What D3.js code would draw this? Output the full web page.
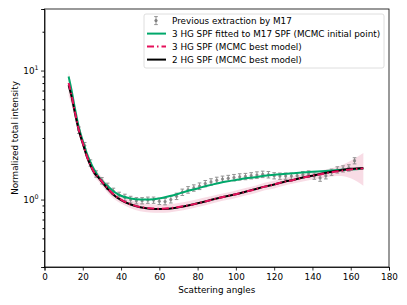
<!DOCTYPE html>
<html>
<head>
<meta charset="utf-8">
<script src="https://cdn.jsdelivr.net/npm/d3@7"></script>
<style>
  body { margin: 0; background: #fff; }
  text { font-family: "DejaVu Sans", sans-serif; }
</style>
</head>
<body>
<div class="canvas"></div>
<script>
// M17 extraction (points + error bars)
const m17Angle = [18, 21, 24, 27, 30, 33, 36, 39, 42, 45, 48, 51, 54, 57, 60, 63, 66, 69, 72, 75,
  78, 81, 84, 87, 90, 93, 96, 99, 102, 105, 108, 111, 114, 117, 120, 123, 126, 129, 132, 135,
  138, 141, 144, 147, 150, 153, 156, 159, 162];
const m17Value = [3.45, 2.62, 1.92, 1.58, 1.40, 1.27, 1.16, 1.08, 1.04, 1.00, 0.98, 0.98, 0.99, 0.99, 0.97, 0.965, 1.0, 1.06, 1.14, 1.19,
  1.23, 1.27, 1.33, 1.37, 1.41, 1.44, 1.46, 1.48, 1.50, 1.51, 1.53, 1.55, 1.57, 1.56, 1.53, 1.52, 1.52, 1.52, 1.53, 1.56,
  1.58, 1.52, 1.47, 1.53, 1.63, 1.70, 1.73, 1.76, 2.0];
const m17Err = [0.2, 0.15, 0.11, 0.09, 0.08, 0.07, 0.065, 0.06, 0.06, 0.06, 0.055, 0.055, 0.055, 0.055, 0.055, 0.055, 0.06, 0.06, 0.065, 0.07,
  0.07, 0.075, 0.075, 0.08, 0.08, 0.08, 0.08, 0.085, 0.085, 0.085, 0.085, 0.09, 0.09, 0.09, 0.085, 0.085, 0.085, 0.085, 0.085, 0.09,
  0.09, 0.085, 0.085, 0.085, 0.09, 0.095, 0.095, 0.1, 0.11];

// model curves
const curveAngle = [12.6, 14, 16, 18, 20, 22, 24, 26, 28, 30, 33, 36, 40, 45, 50, 55, 60, 65, 70, 75,
  80, 85, 90, 95, 100, 105, 110, 115, 120, 125, 130, 135, 140, 145, 150, 155, 160, 166.6];
const greenFit = [9.0, 7.2, 5.0, 3.6, 2.85, 2.3, 1.95, 1.7, 1.52, 1.40, 1.27, 1.16, 1.07, 1.02, 1.0, 1.0, 1.02, 1.06, 1.11, 1.17,
  1.22, 1.28, 1.33, 1.38, 1.42, 1.46, 1.49, 1.53, 1.56, 1.58, 1.60, 1.62, 1.64, 1.66, 1.68, 1.70, 1.71, 1.73];
const best3HG = [8.0, 6.6, 4.7, 3.45, 2.75, 2.2, 1.85, 1.62, 1.5, 1.38, 1.22, 1.1, 1.0, 0.92, 0.875, 0.855, 0.85, 0.855, 0.875, 0.9,
  0.935, 0.975, 1.02, 1.06, 1.1, 1.15, 1.2, 1.26, 1.31, 1.37, 1.42, 1.48, 1.53, 1.58, 1.63, 1.67, 1.71, 1.74];
const best2HG = [7.7, 6.4, 4.6, 3.4, 2.72, 2.18, 1.84, 1.61, 1.49, 1.37, 1.21, 1.09, 0.99, 0.915, 0.87, 0.85, 0.845, 0.85, 0.87, 0.9,
  0.935, 0.975, 1.02, 1.06, 1.1, 1.15, 1.2, 1.26, 1.31, 1.37, 1.42, 1.48, 1.53, 1.59, 1.64, 1.69, 1.73, 1.76];
const bandLow = [6.4, 5.5, 4.2, 3.15, 2.55, 2.05, 1.73, 1.5, 1.39, 1.28, 1.13, 1.02, 0.93, 0.855, 0.81, 0.795, 0.79, 0.795, 0.815, 0.84,
  0.875, 0.91, 0.955, 0.99, 1.03, 1.075, 1.12, 1.18, 1.22, 1.28, 1.33, 1.38, 1.43, 1.47, 1.51, 1.52, 1.46, 1.28];
const bandHigh = [9.8, 7.8, 5.2, 3.8, 2.95, 2.36, 1.98, 1.74, 1.61, 1.49, 1.31, 1.19, 1.08, 0.99, 0.945, 0.925, 0.915, 0.92, 0.94, 0.97,
  1.005, 1.045, 1.09, 1.13, 1.175, 1.23, 1.28, 1.35, 1.4, 1.46, 1.52, 1.58, 1.63, 1.69, 1.75, 1.84, 2.0, 2.3];

const xTicks = [0, 20, 40, 60, 80, 100, 120, 140, 160, 180];
const legendLabels = ["Previous extraction by M17", "3 HG SPF fitted to M17 SPF (MCMC initial point)",
  "3 HG SPF (MCMC best model)", "2 HG SPF (MCMC best model)"];

const W = 407, H = 305;
const area = { left: 44.5, right: 389, top: 9, bottom: 267 };
const green = "#00a86b", red = "#e5105a", grey = "#808080";
const fs = 8.8;

const svg = d3.select(".canvas").append("svg").attr("width", W).attr("height", H);

const x = d3.scaleLinear().domain([0, 180]).range([area.left, area.right]);
const y = d3.scaleLog().domain([0.3, 30]).range([area.bottom, area.top]);

const plot = svg.append("g");

// pink MCMC band
const band = d3.area()
  .x((d, i) => x(curveAngle[i]))
  .y0((d, i) => y(bandLow[i]))
  .y1((d, i) => y(bandHigh[i]))
  .curve(d3.curveMonotoneX);
plot.append("path").datum(curveAngle).attr("d", band)
  .attr("fill", "#f4c4d4").attr("opacity", 0.6);

// error bars
const pts = m17Angle.map((a, i) => ({ a, v: m17Value[i], e: m17Err[i] }));
const eb = plot.append("g").attr("stroke", grey).attr("stroke-width", 1).attr("opacity", 0.85);
eb.selectAll("line.v").data(pts).join("line")
  .attr("x1", d => x(d.a)).attr("x2", d => x(d.a))
  .attr("y1", d => y(d.v - d.e)).attr("y2", d => y(d.v + d.e));
eb.selectAll("line.t").data(pts).join("line")
  .attr("x1", d => x(d.a) - 1.8).attr("x2", d => x(d.a) + 1.8)
  .attr("y1", d => y(d.v + d.e)).attr("y2", d => y(d.v + d.e));
eb.selectAll("line.b").data(pts).join("line")
  .attr("x1", d => x(d.a) - 1.8).attr("x2", d => x(d.a) + 1.8)
  .attr("y1", d => y(d.v - d.e)).attr("y2", d => y(d.v - d.e));
plot.append("g").selectAll("circle").data(pts).join("circle")
  .attr("cx", d => x(d.a)).attr("cy", d => y(d.v)).attr("r", 1.6)
  .attr("fill", grey).attr("opacity", 0.85);

// model lines
const line = vals => d3.line()
  .x((d, i) => x(curveAngle[i]))
  .y((d, i) => y(vals[i]))
  .curve(d3.curveMonotoneX)(curveAngle);

plot.append("path").attr("d", line(greenFit)).attr("fill", "none")
  .attr("stroke", green).attr("stroke-width", 2);
plot.append("path").attr("d", line(best2HG)).attr("fill", "none")
  .attr("stroke", "#000").attr("stroke-width", 2);
plot.append("path").attr("d", line(best3HG)).attr("fill", "none")
  .attr("stroke", red).attr("stroke-width", 2).attr("stroke-dasharray", "7,3,1.5,3");

// axes
const xAxis = svg.append("g").attr("transform", `translate(0,${area.bottom})`)
  .call(d3.axisBottom(x).tickValues(xTicks).tickSize(3.5).tickPadding(3));
const yAxis = svg.append("g").attr("transform", `translate(${area.left},0)`)
  .call(d3.axisLeft(y).tickValues([1, 10]).tickSize(3.5).tickPadding(3).tickFormat(""));
const minor = [0.3, 0.4, 0.5, 0.6, 0.7, 0.8, 0.9, 2, 3, 4, 5, 6, 7, 8, 9, 20, 30];
svg.append("g").attr("transform", `translate(${area.left},0)`)
  .call(d3.axisLeft(y).tickValues(minor).tickSize(2).tickFormat(""))
  .select(".domain").remove();

[xAxis, yAxis].forEach(g => {
  g.selectAll("text").attr("font-size", fs).attr("fill", "#000");
  g.selectAll("line,path").attr("stroke", "#000").attr("stroke-width", 0.8);
});

[1, 10].forEach((v, i) => {
  const t = svg.append("text").attr("x", area.left - 6).attr("y", y(v) + 3.2)
    .attr("text-anchor", "end").attr("font-size", fs);
  t.append("tspan").text("10");
  t.append("tspan").attr("dy", -3.5).attr("font-size", 6.3).text(String(i));
});

// frame
svg.append("rect").attr("x", area.left).attr("y", area.top)
  .attr("width", area.right - area.left).attr("height", area.bottom - area.top)
  .attr("fill", "none").attr("stroke", "#000").attr("stroke-width", 0.8);

// axis labels
svg.append("text").attr("x", (area.left + area.right) / 2).attr("y", 293)
  .attr("text-anchor", "middle").attr("font-size", fs).text("Scattering angles");
svg.append("text").attr("transform", `translate(18,${(area.top + area.bottom) / 2}) rotate(-90)`)
  .attr("text-anchor", "middle").attr("font-size", fs).text("Normalized total intensity");

// legend
const lg = svg.append("g");
lg.append("rect").attr("x", 144).attr("y", 14).attr("width", 240).attr("height", 54).attr("rx", 2)
  .attr("fill", "#fff").attr("fill-opacity", 0.8).attr("stroke", "#d6d6d6").attr("stroke-width", 0.8);
const rowY = [20.6, 33.6, 46.6, 59.6];
legendLabels.forEach((lab, i) => {
  lg.append("text").attr("x", 172).attr("y", rowY[i] + 3.2).attr("font-size", fs).text(lab);
});
const ebl = lg.append("g").attr("stroke", grey).attr("opacity", 0.85);
ebl.append("line").attr("x1", 156).attr("x2", 156).attr("y1", rowY[0] - 4).attr("y2", rowY[0] + 4);
ebl.append("line").attr("x1", 154.2).attr("x2", 157.8).attr("y1", rowY[0] - 4).attr("y2", rowY[0] - 4);
ebl.append("line").attr("x1", 154.2).attr("x2", 157.8).attr("y1", rowY[0] + 4).attr("y2", rowY[0] + 4);
lg.append("circle").attr("cx", 156).attr("cy", rowY[0]).attr("r", 1.6).attr("fill", grey);
lg.append("line").attr("x1", 147).attr("x2", 166).attr("y1", rowY[1]).attr("y2", rowY[1])
  .attr("stroke", green).attr("stroke-width", 2);
lg.append("line").attr("x1", 147).attr("x2", 166).attr("y1", rowY[2]).attr("y2", rowY[2])
  .attr("stroke", red).attr("stroke-width", 2).attr("stroke-dasharray", "7,3,1.5,3");
lg.append("line").attr("x1", 147).attr("x2", 166).attr("y1", rowY[3]).attr("y2", rowY[3])
  .attr("stroke", "#000").attr("stroke-width", 2);
</script>
</body>
</html>
